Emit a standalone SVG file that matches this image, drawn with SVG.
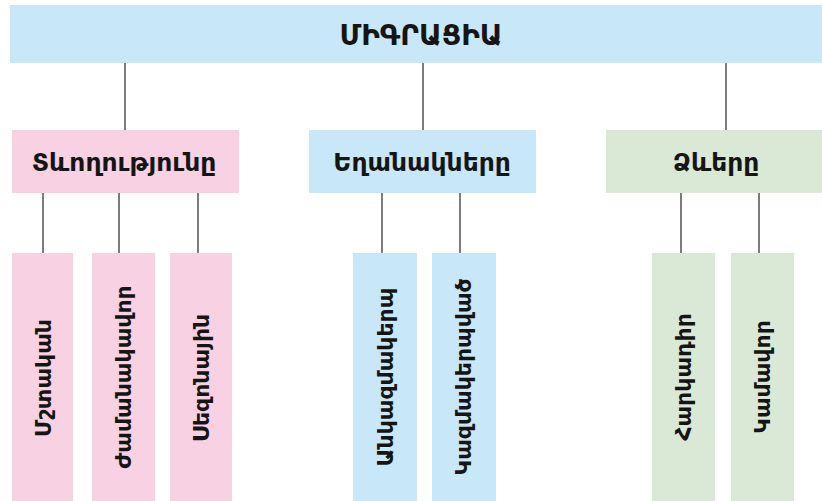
<svg xmlns="http://www.w3.org/2000/svg" width="822" height="501" viewBox="0 0 822 501">
<style>
.blue{fill:#c8e7f8}
.pink{fill:#f8d1e3}
.green{fill:#d9e9d5}
.t{font-family:"DejaVu Sans","Noto Sans",sans-serif;fill:#151515;text-anchor:middle;dominant-baseline:central;font-weight:bold}
.t1{font-size:28px}
.t2{font-size:25px}
.t3{font-size:22px}
.c{stroke:#505050;stroke-width:1.5;fill:none}
</style>
<rect width="822" height="501" fill="#ffffff"/>
<g id="connectors">
<line class="c" x1="125" y1="63" x2="125" y2="130"/>
<line class="c" x1="423" y1="63" x2="423" y2="130"/>
<line class="c" x1="726" y1="63" x2="726" y2="130"/>
<line class="c" x1="43" y1="193" x2="43" y2="253"/>
<line class="c" x1="119" y1="193" x2="119" y2="253"/>
<line class="c" x1="198" y1="193" x2="198" y2="253"/>
<line class="c" x1="382" y1="193" x2="382" y2="253"/>
<line class="c" x1="460" y1="193" x2="460" y2="253"/>
<line class="c" x1="681" y1="193" x2="681" y2="253"/>
<line class="c" x1="759" y1="193" x2="759" y2="253"/>
</g>
<g id="migration">
<rect class="blue" x="10" y="5" width="812" height="58"/>
<text class="t t1" x="421" y="35">ՄԻԳՐԱՑԻԱ</text>
</g>
<g id="duration">
<rect class="pink" x="12" y="130" width="227" height="63"/>
<text class="t t2" x="124" y="162">Տևողությունը</text>
</g>
<g id="methods">
<rect class="blue" x="309" y="130" width="227" height="63"/>
<text class="t t2" x="422" y="162">Եղանակները</text>
</g>
<g id="forms">
<rect class="green" x="606" y="130" width="216" height="63"/>
<text class="t t2" x="716" y="162">Ձևերը</text>
</g>
<g id="permanent">
<rect class="pink" x="12" y="253" width="61" height="248"/>
<text class="t t3" transform="translate(43 378) rotate(-90)">Մշտական</text>
</g>
<g id="temporary">
<rect class="pink" x="92" y="253" width="63" height="248"/>
<text class="t t3" transform="translate(123 377) rotate(-90)">Ժամանակավոր</text>
</g>
<g id="seasonal">
<rect class="pink" x="170" y="253" width="62" height="248"/>
<text class="t t3" transform="translate(201 378) rotate(-90)">Սեզոնային</text>
</g>
<g id="unorganized">
<rect class="blue" x="353" y="253" width="64" height="248"/>
<text class="t t3" transform="translate(385 377) rotate(-90)">Անկազմակերպ</text>
</g>
<g id="organized">
<rect class="blue" x="432" y="253" width="64" height="248"/>
<text class="t t3" transform="translate(463 377) rotate(-90)">Կազմակերպված</text>
</g>
<g id="forced">
<rect class="green" x="652" y="253" width="63" height="248"/>
<text class="t t3" transform="translate(683 377) rotate(-90)">Հարկադիր</text>
</g>
<g id="voluntary">
<rect class="green" x="731" y="253" width="63" height="248"/>
<text class="t t3" transform="translate(762 377) rotate(-90)">Կամավոր</text>
</g>
</svg>
